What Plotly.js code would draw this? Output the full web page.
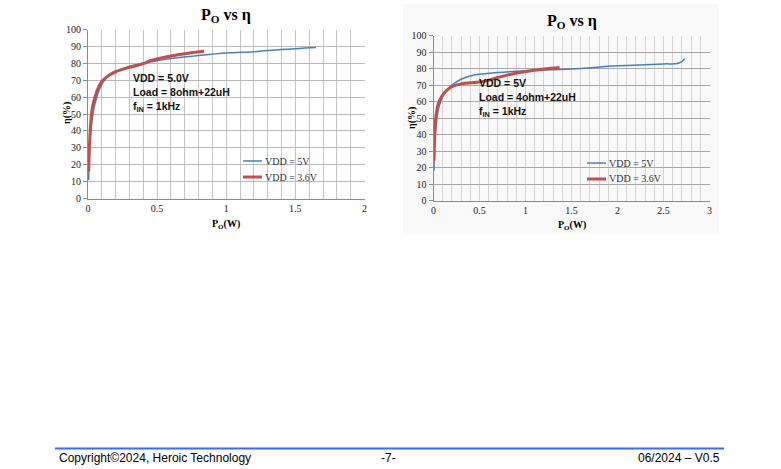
<!DOCTYPE html>
<html>
<head>
<meta charset="utf-8">
<script src="https://cdn.plot.ly/plotly-3.0.1.min.js"></script>
<style>html,body{margin:0;padding:0;background:#fff;}#chart{width:781px;height:469px;}</style>
</head>
<body>
<div id="chart"></div>
<script>
// ---- Data ----
// Left chart: Load = 8ohm+22uH
const leftVdd5X  = [0.005, 0.01, 0.02, 0.04, 0.06, 0.08, 0.10, 0.12, 0.15, 0.20, 0.30, 0.40, 0.50, 0.60, 0.80, 1.00, 1.20, 1.40, 1.65];
const leftVdd5Y  = [11, 25, 40, 52, 59, 64, 67.5, 70, 72.5, 75, 78.2, 80, 81.5, 82.8, 84.6, 86.1, 86.9, 88.1, 89.3];
const leftVdd36X = [0.005, 0.01, 0.02, 0.03, 0.05, 0.08, 0.10, 0.15, 0.20, 0.30, 0.40, 0.45, 0.50, 0.60, 0.70, 0.84];
const leftVdd36Y = [16, 30, 45, 53, 60, 66.5, 69.3, 72.8, 75, 77.6, 79.8, 81.5, 82.5, 84.3, 85.7, 87.1];

// Right chart: Load = 4ohm+22uH
const rightVdd5X  = [0.005, 0.01, 0.02, 0.04, 0.06, 0.10, 0.15, 0.20, 0.30, 0.40, 0.50, 0.70, 1.00, 1.50, 2.00, 2.50, 2.65, 2.70, 2.73];
const rightVdd5Y  = [18, 28, 40, 51, 57, 63, 67, 70, 73.5, 75.5, 76.5, 77.6, 78.6, 79.7, 81.6, 82.8, 83, 84.2, 86];
const rightVdd36X = [0.005, 0.01, 0.02, 0.04, 0.06, 0.10, 0.15, 0.20, 0.30, 0.50, 0.60, 0.70, 0.80, 1.00, 1.20, 1.37];
const rightVdd36Y = [24, 35, 47, 56, 60, 64, 67, 69, 70.7, 71.8, 72.8, 74.6, 76, 78.2, 79.7, 80.6];

const seriesNames = ['VDD = 5V', 'VDD = 3.6V'];
const leftNotes  = ['VDD = 5.0V', 'Load = 8ohm+22uH', 'f<sub>IN</sub> = 1kHz'];
const rightNotes = ['VDD = 5V', 'Load = 4ohm+22uH', 'f<sub>IN</sub> = 1kHz'];
const chartTitle = 'P<sub>O</sub> vs η';
const xTitle = 'P<sub>O</sub>(W)';
const yTitle = 'η(%)';
const footer = ['Copyright©2024, Heroic Technology', '-7-', '06/2024 – V0.5'];

// ---- Styles ----
const W = 781, H = 469;
const px = v => v / W, py = v => 1 - v / H;
const BLUE = '#4a7ebb', RED = '#c0504d';
const serif = 'Liberation Serif';
const sans = 'Liberation Sans';
const tickFont = () => ({family: serif, size: 10, color: '#222'});

const traces = [
  {x: leftVdd5X, y: leftVdd5Y, xaxis: 'x', yaxis: 'y', mode: 'lines', line: {color: BLUE, width: 1.5, shape: 'spline'}, name: seriesNames[0], showlegend: false},
  {x: leftVdd36X, y: leftVdd36Y, xaxis: 'x', yaxis: 'y', mode: 'lines', line: {color: RED, width: 3, shape: 'spline'}, name: seriesNames[1], showlegend: false},
  {x: rightVdd5X, y: rightVdd5Y, xaxis: 'x2', yaxis: 'y2', mode: 'lines', line: {color: BLUE, width: 1.5, shape: 'spline'}, name: seriesNames[0], showlegend: false},
  {x: rightVdd36X, y: rightVdd36Y, xaxis: 'x2', yaxis: 'y2', mode: 'lines', line: {color: RED, width: 3, shape: 'spline'}, name: seriesNames[1], showlegend: false}
];

function xAxis(domain, max, gridV, anchor) {
  return {
    domain: domain, range: [0, max], tick0: 0, dtick: 0.5, anchor: anchor,
    showgrid: true, gridcolor: gridV, gridwidth: 1,
    minor: {dtick: 0.1, showgrid: true, gridcolor: gridV, gridwidth: 1},
    zeroline: false, showline: true, linecolor: '#8c8c8c', linewidth: 1,
    ticks: '', tickfont: tickFont(), fixedrange: true, ticklabelstandoff: 0
  };
}
function yAxis(domain, gridH, anchor) {
  return {
    domain: domain, range: [0, 100], tick0: 0, dtick: 10, anchor: anchor,
    showgrid: true, gridcolor: gridH, gridwidth: 1,
    zeroline: false, showline: true, linecolor: '#8c8c8c', linewidth: 1,
    ticks: 'outside', ticklen: 4, tickcolor: '#8c8c8c', tickfont: tickFont(), fixedrange: true
  };
}

// plot-area pixel boxes
const L = {x0: 88, x1: 364.5, y0: 29.5, y1: 198.5};
const R = {x0: 433.5, x1: 709.5, y0: 35.5, y1: 200.5};

const annotations = [];
const shapes = [];

// right chart faint background
shapes.push({type: 'rect', xref: 'paper', yref: 'paper', x0: px(403), x1: px(719), y0: py(233), y1: py(4),
  fillcolor: '#f9f9f9', line: {width: 0}, layer: 'below'});

function addChartText(cx, titleY, axTitleY, yTitleX, yTitleY, notes, noteX, noteY0, legX, legY0) {
  annotations.push({text: '<b>' + chartTitle + '</b>', xref: 'paper', yref: 'paper', x: px(cx), y: py(titleY),
    showarrow: false, font: {family: serif, size: 16, color: '#000'}, xanchor: 'center', yanchor: 'middle'});
  annotations.push({text: '<b>' + xTitle + '</b>', xref: 'paper', yref: 'paper', x: px(cx), y: py(axTitleY),
    showarrow: false, font: {family: serif, size: 10, color: '#000'}, xanchor: 'center', yanchor: 'middle'});
  annotations.push({text: '<b>' + yTitle + '</b>', xref: 'paper', yref: 'paper', x: px(yTitleX), y: py(yTitleY),
    showarrow: false, textangle: -90, font: {family: serif, size: 10, color: '#000'}, xanchor: 'center', yanchor: 'middle'});
  notes.forEach((t, i) => {
    annotations.push({text: '<b>' + t + '</b>', xref: 'paper', yref: 'paper', x: px(noteX), y: py(noteY0 + i * 14.5),
      showarrow: false, font: {family: sans, size: 10.5, color: '#111'}, xanchor: 'left', yanchor: 'middle'});
  });
  seriesNames.forEach((t, i) => {
    const yy = legY0 + i * 16;
    shapes.push({type: 'line', xref: 'paper', yref: 'paper', x0: px(legX), x1: px(legX + 19), y0: py(yy), y1: py(yy),
      line: {color: i === 0 ? BLUE : RED, width: i === 0 ? 1.5 : 3}});
    annotations.push({text: t, xref: 'paper', yref: 'paper', x: px(legX + 20), y: py(yy),
      showarrow: false, font: {family: serif, size: 10, color: '#333'}, xanchor: 'left', yanchor: 'middle'});
  });
}
addChartText(226.5, 15, 224, 67, 113, leftNotes, 131, 77.5, 243, 161);
addChartText(571.5, 22, 225, 412, 118, rightNotes, 477, 83, 587, 163);

// footer
shapes.push({type: 'line', xref: 'paper', yref: 'paper', x0: px(55), x1: px(724), y0: py(448.5), y1: py(448.5),
  line: {color: '#3b6cf0', width: 2}});
annotations.push({text: footer[0], xref: 'paper', yref: 'paper', x: px(57), y: py(457.5), showarrow: false,
  font: {family: sans, size: 12, color: '#000'}, xanchor: 'left', yanchor: 'middle'});
annotations.push({text: footer[1], xref: 'paper', yref: 'paper', x: px(388), y: py(457.5), showarrow: false,
  font: {family: sans, size: 12, color: '#000'}, xanchor: 'center', yanchor: 'middle'});
annotations.push({text: footer[2], xref: 'paper', yref: 'paper', x: px(722), y: py(457.5), showarrow: false,
  font: {family: sans, size: 12, color: '#000'}, xanchor: 'right', yanchor: 'middle'});

const layout = {
  width: W, height: H,
  margin: {l: 0, r: 0, t: 0, b: 0},
  font: {family: serif, size: 10, color: '#222'},
  paper_bgcolor: '#ffffff', plot_bgcolor: 'rgba(255,255,255,1)',
  showlegend: false,
  xaxis: xAxis([px(L.x0), px(L.x1)], 2, '#c4c4c4', 'y'),
  yaxis: yAxis([py(L.y1), py(L.y0)], '#b8b8b8', 'x'),
  xaxis2: xAxis([px(R.x0), px(R.x1)], 3, '#d6d6d6', 'y2'),
  yaxis2: yAxis([py(R.y1), py(R.y0)], '#a8a8a8', 'x2'),
  shapes: shapes,
  annotations: annotations
};

Plotly.newPlot('chart', traces, layout, {staticPlot: true, displayModeBar: false});
</script>
</body>
</html>
